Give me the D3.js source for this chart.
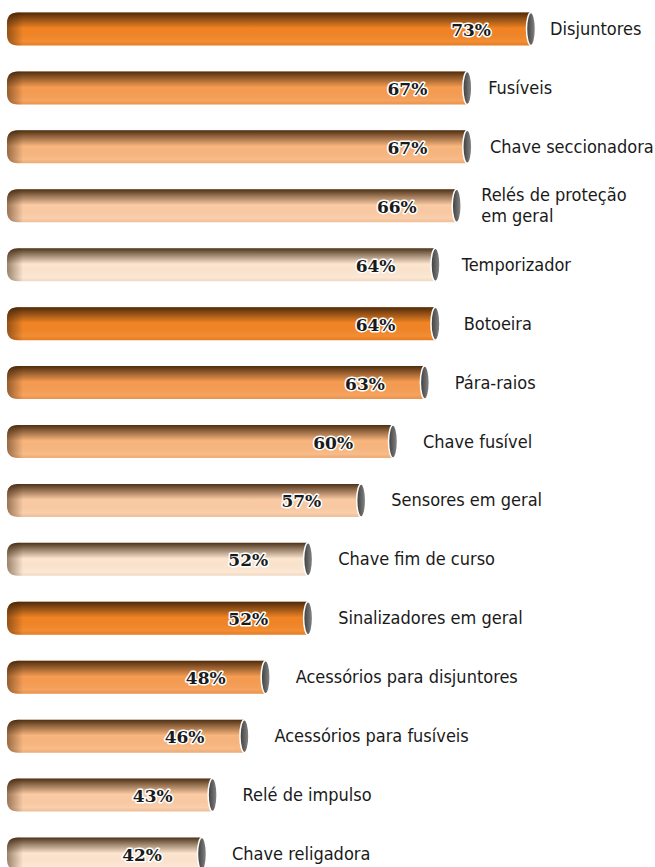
<!DOCTYPE html>
<html lang="pt">
<head>
    <meta charset="UTF-8">
    <title>Produtos</title>
    <script src="https://cdn.jsdelivr.net/npm/d3@7"></script>
    <style>
        body{margin:0;background:#fff;}
        .cat{font-family:"Liberation Sans Narrow","DejaVu Sans Condensed",sans-serif;font-size:18px;fill:#1a1a1a;}
        .val{font-family:"DejaVu Serif",serif;font-weight:bold;font-size:17px;fill:#1a1a1a;
             stroke:#fff;stroke-width:3px;paint-order:stroke;stroke-linejoin:round;}
    </style>
</head>
<body>
    <svg></svg>
    <script>
        //data
        var categories = ["Disjuntores","Fusíveis","Chave seccionadora","Relés de proteção|em geral",
            "Temporizador","Botoeira","Pára-raios","Chave fusível","Sensores em geral",
            "Chave fim de curso","Sinalizadores em geral","Acessórios para disjuntores",
            "Acessórios para fusíveis","Relé de impulso","Chave religadora"];
        var values = [73,67,67,66,64,64,63,60,57,52,52,48,46,43,42];
        //five shades repeat down the list
        var shades = ["#f28424","#f69c52","#f9b67e","#fbcba4","#fde6d0"];

        var width = 655, height = 867;
        var barLeft = 7, barH = 33;

        var svg = d3.select("svg").attr("width",width).attr("height",height);

        //the axis does not start at zero in the original
        var x = d3.scaleLinear().domain([42,73]).range([202,531]);
        var y = d3.scalePoint().domain(d3.range(categories.length)).range([29,854]);
        //label gap grows a bit for the lower bars
        var gap = d3.scaleLinear().domain([0,6]).range([19,30]).clamp(true);

        var defs = svg.append("defs");
        //darkening at the top of the tube
        var gTop = defs.append("linearGradient").attr("id","topShade")
            .attr("x1",0).attr("y1",0).attr("x2",0).attr("y2",1);
        gTop.append("stop").attr("offset","0%").attr("stop-color","#3a2008").attr("stop-opacity",0.9);
        gTop.append("stop").attr("offset","18%").attr("stop-color","#3a2008").attr("stop-opacity",0.55);
        gTop.append("stop").attr("offset","48%").attr("stop-color","#3a2008").attr("stop-opacity",0);
        gTop.append("stop").attr("offset","88%").attr("stop-color","#fff").attr("stop-opacity",0.08);
        gTop.append("stop").attr("offset","100%").attr("stop-color","#000").attr("stop-opacity",0.05);
        //darkening at the rounded left end, same x for every bar
        var gLeft = defs.append("linearGradient").attr("id","leftShade")
            .attr("gradientUnits","userSpaceOnUse")
            .attr("x1",barLeft).attr("y1",0).attr("x2",barLeft+16).attr("y2",0);
        gLeft.append("stop").attr("offset","0%").attr("stop-color","#3a2008").attr("stop-opacity",0.5);
        gLeft.append("stop").attr("offset","100%").attr("stop-color","#3a2008").attr("stop-opacity",0);
        //grey end cap
        var gCap = defs.append("linearGradient").attr("id","capShade")
            .attr("x1",0).attr("y1",0).attr("x2",1).attr("y2",0);
        gCap.append("stop").attr("offset","0%").attr("stop-color","#3c3c3c");
        gCap.append("stop").attr("offset","60%").attr("stop-color","#6a6a6a");
        gCap.append("stop").attr("offset","100%").attr("stop-color","#8a8a8a");

        function tube(x1,top){
            var r = 11;
            return "M"+(barLeft+r)+","+top+"L"+x1+","+top+"L"+x1+","+(top+barH)
                +"L"+(barLeft+r)+","+(top+barH)
                +"Q"+barLeft+","+(top+barH)+" "+barLeft+","+(top+barH-r)
                +"L"+barLeft+","+(top+r)
                +"Q"+barLeft+","+top+" "+(barLeft+r)+","+top+"Z";
        }

        var rows = svg.append("g").selectAll("g")
            .data(values)
            .enter()
            .append("g");

        ["base","url(#topShade)","url(#leftShade)"].forEach(function(f){
            rows.append("path")
                .attr("d",function(d,i){return tube(x(d),y(i)-barH/2);})
                .attr("fill",function(d,i){return f=="base" ? shades[i%5] : f;});
        });
        rows.append("ellipse")
            .attr("cx",function(d){return x(d);})
            .attr("cy",function(d,i){return y(i);})
            .attr("rx",4.5)
            .attr("ry",barH/2)
            .attr("fill","url(#capShade)")
            .attr("stroke","#fff")
            .attr("stroke-width",1.5);

        rows.append("text")
            .attr("class","val")
            .attr("x",function(d){return x(d)-40;})
            .attr("y",function(d,i){return y(i)+7;})
            .attr("text-anchor","end")
            .text(function(d){return d+"%";});

        rows.append("text")
            .attr("class","cat")
            .attr("x",function(d,i){return x(d)+gap(i);})
            .attr("y",function(d,i){
                var n = categories[i].split("|").length;
                return y(i)+6-(n-1)*10.5;
            })
            .each(function(d,i){
                var t = d3.select(this), px = t.attr("x");
                categories[i].split("|").forEach(function(line,k){
                    t.append("tspan").attr("x",px).attr("dy",k?21:0).text(line);
                });
            });
    </script>
</body>
</html>
